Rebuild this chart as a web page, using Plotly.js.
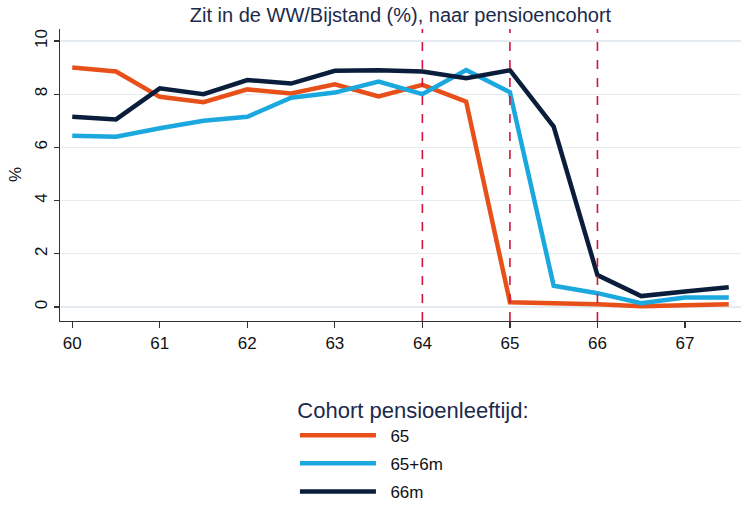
<!DOCTYPE html>
<html>
<head>
<meta charset="utf-8">
<script src="https://cdn.plot.ly/plotly-3.0.1.min.js"></script>
<style>html,body{margin:0;padding:0;background:#fff;}#chart{width:745px;height:507px;}</style>
</head>
<body>
<div id="chart"></div>
<script>
const ages = [60, 60.5, 61, 61.5, 62, 62.5, 63, 63.5, 64, 64.5, 65, 65.5, 66, 66.5, 67, 67.5];
const cohort65 = [9.0, 8.85, 7.9, 7.7, 8.18, 8.03, 8.37, 7.92, 8.35, 7.72, 0.18, 0.15, 0.1, 0.03, 0.08, 0.1];
const cohort65_6m = [6.44, 6.4, 6.72, 7.0, 7.15, 7.87, 8.06, 8.47, 8.0, 8.91, 8.07, 0.8, 0.52, 0.14, 0.36, 0.36];
const cohort66m = [7.15, 7.05, 8.22, 8.0, 8.53, 8.4, 8.88, 8.9, 8.85, 8.6, 8.9, 6.78, 1.2, 0.41, 0.58, 0.74];
const seriesNames = ['65', '65+6m', '66m'];
const retirementAges = [64, 65, 66];
const xTicks = [60, 61, 62, 63, 64, 65, 66, 67];
const yTicks = [0, 2, 4, 6, 8, 10];
const titleText = 'Zit in de WW/Bijstand (%), naar pensioencohort';
const yTitle = '%';
const legendTitle = 'Cohort pensioenleeftijd:';

const colors = ['#E8501A', '#1AA8DE', '#0A1E3C'];
const seriesData = [cohort65, cohort65_6m, cohort66m];

const traces = seriesData.map((ys, i) => ({
  x: ages, y: ys, type: 'scatter', mode: 'lines',
  name: '\u00a0\u00a0' + seriesNames[i], legendgroup: 'g' + i,
  line: {color: colors[i], width: 4.5}
}));

const shapes = retirementAges.map(a => ({
  type: 'line', xref: 'x', yref: 'paper', x0: a, x1: a, y0: 0, y1: 1,
  line: {color: '#D0163F', width: 1.6, dash: 'dash'}, layer: 'above'
}));

const font = 'Liberation Sans, Arial, sans-serif';
const layout = {
  width: 745, height: 507,
  margin: {l: 60, r: 4, t: 29, b: 186, autoexpand: false},
  paper_bgcolor: '#fff', plot_bgcolor: '#fff',
  font: {family: font, color: '#111', size: 16},
  title: {text: titleText, font: {family: font, size: 20, color: '#1c2a4c'},
          x: 0.5, xref: 'paper', xanchor: 'center', y: 0.970, yref: 'container', yanchor: 'middle'},
  xaxis: {
    range: [59.86, 67.64], tickvals: xTicks, ticktext: xTicks.map(String),
    showgrid: false, zeroline: false, showline: true, linecolor: '#333', linewidth: 1.2,
    ticks: 'outside', ticklen: 6, tickcolor: '#333', tickwidth: 1.2,
    tickfont: {size: 17, color: '#111'}
  },
  yaxis: {
    range: [-0.526, 10.45], tickvals: yTicks, ticktext: yTicks.map(String),
    showgrid: true, gridcolor: '#E4ECF2', gridwidth: 1.2, zeroline: false,
    showline: true, linecolor: '#333', linewidth: 1.2,
    ticks: 'outside', ticklen: 5, tickcolor: '#333', tickwidth: 1.2,
    tickangle: -90, tickfont: {size: 17, color: '#111'}
  },
  annotations: [{
    text: yTitle, xref: 'paper', yref: 'paper', x: -0.066, y: 0.5, xanchor: 'center', yanchor: 'middle',
    textangle: -90, showarrow: false, font: {size: 17, color: '#111'}
  }],
  shapes: shapes,
  showlegend: true,
  legend: {
    x: 0.345, xanchor: 'left', y: -0.233, yanchor: 'top',
    orientation: 'v', itemwidth: 76, font: {size: 17, color: '#111'},
    title: {text: legendTitle, side: 'top center', font: {size: 22, color: '#1c2a4c'}},
    tracegroupgap: 3
  }
};

Plotly.newPlot('chart', traces, layout, {staticPlot: true, displayModeBar: false});
</script>
</body>
</html>
